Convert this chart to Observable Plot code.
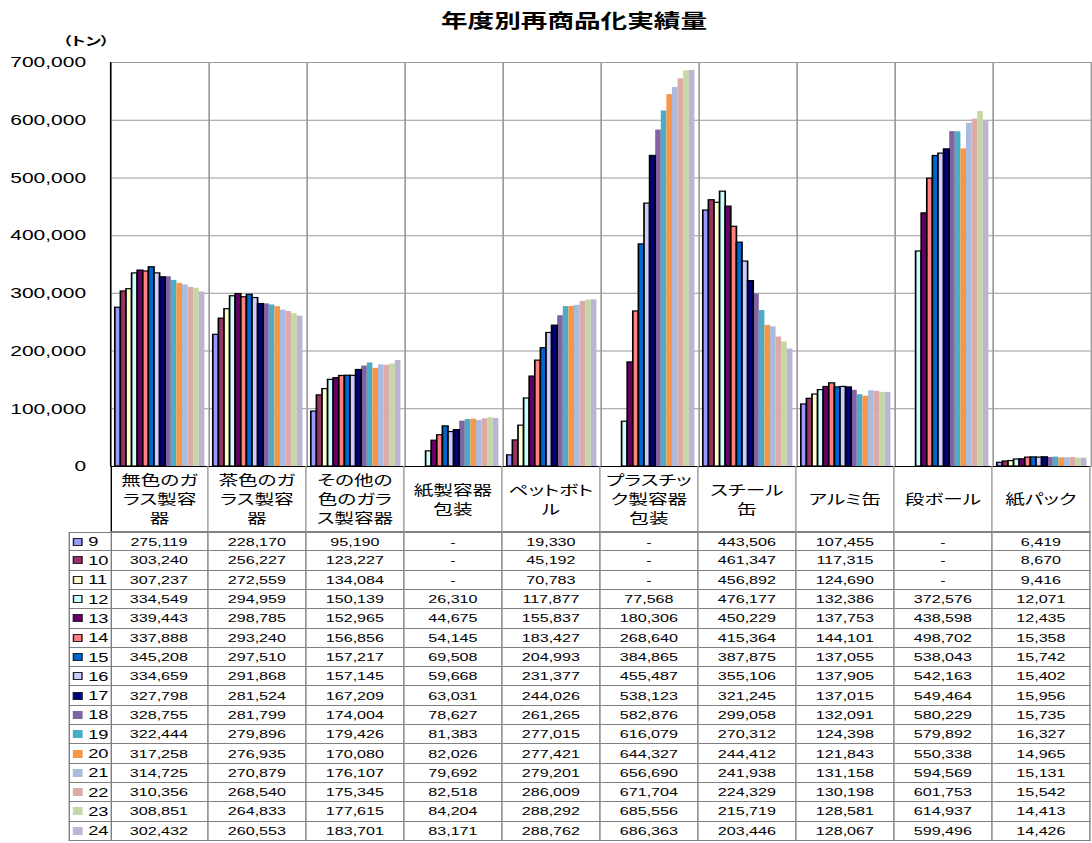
<!DOCTYPE html>
<html><head><meta charset="utf-8">
<script src="https://cdn.jsdelivr.net/npm/d3@7"></script>
<script src="https://cdn.jsdelivr.net/npm/@observablehq/plot@0.6"></script>
<style>
body{margin:0;background:#fff;}
#wrap{position:relative;width:780px;height:843px;transform:scaleX(1.4);transform-origin:0 0;font-family:"Liberation Sans",Arial,sans-serif;color:#000;overflow:visible;}
.jp{font-family:"Noto Sans CJK JP","Noto Sans CJK SC",sans-serif;font-feature-settings:"palt";}
.abs{position:absolute;box-sizing:border-box;}
.cell{display:flex;align-items:center;justify-content:center;font-size:11.5px;border-right:1px solid #808080;border-bottom:1px solid #808080;}
.head{flex-direction:column;font-size:14px;line-height:19px;border-right:1px solid #999;border-bottom:1px solid #808080;}
.leg{justify-content:flex-start;font-size:13px;border-left:1px solid #808080;}
.sw{display:inline-block;width:7px;height:8px;box-sizing:border-box;margin-left:2px;margin-right:4px;}
</style></head><body><div id="wrap"></div><script>
const categories = ["無色のガラス製容器","茶色のガラス製容器","その他の色のガラス製容器","紙製容器包装","ペットボトル","プラスチック製容器包装","スチール缶","アルミ缶","段ボール","紙パック"];
const categoryLines = [["無色のガ","ラス製容","器"],["茶色のガ","ラス製容","器"],["その他の","色のガラ","ス製容器"],["紙製容器","包装"],["ペットボト","ル"],["プラスチッ","ク製容器","包装"],["スチール","缶"],["アルミ缶"],["段ボール"],["紙パック"]];
const years = ["9","10","11","12","13","14","15","16","17","18","19","20","21","22","23","24"];
const colors = ["#9999FF","#993366","#FFFFCC","#CCFFFF","#660066","#FF8080","#0066CC","#CCCCFF","#000080","#8064A2","#4BACC6","#F79646","#AABBDD","#DDAAAA","#C4D7A4","#BCB4D4"];
const outlinedYears = ["9","10","11","12","13","14","15","16","17"];
const yTicks = [0,100000,200000,300000,400000,500000,600000,700000];
const v9  = [275119,228170,95190,null,19330,null,443506,107455,null,6419];
const v10 = [303240,256227,123227,null,45192,null,461347,117315,null,8670];
const v11 = [307237,272559,134084,null,70783,null,456892,124690,null,9416];
const v12 = [334549,294959,150139,26310,117877,77568,476177,132386,372576,12071];
const v13 = [339443,298785,152965,44675,155837,180306,450229,137753,438598,12435];
const v14 = [337888,293240,156856,54145,183427,268640,415364,144101,498702,15358];
const v15 = [345208,297510,157217,69508,204993,384865,387875,137055,538043,15742];
const v16 = [334659,291868,157145,59668,231377,455487,355106,137905,542163,15402];
const v17 = [327798,281524,167209,63031,244026,538123,321245,137015,549464,15956];
const v18 = [328755,281799,174004,78627,261265,582876,299058,132091,580229,15735];
const v19 = [322444,279896,179426,81383,277015,616079,270312,124398,579892,16327];
const v20 = [317258,276935,170080,82026,277421,644327,244412,121843,550338,14965];
const v21 = [314725,270879,176107,79692,279201,656690,241938,131158,594569,15131];
const v22 = [310356,268540,175345,82518,286009,671704,224329,130198,601753,15542];
const v23 = [308851,264833,177615,84204,288292,685556,215719,128581,614937,14413];
const v24 = [302432,260553,183701,83171,288762,686363,203446,128067,599496,14426];
const series = [v9,v10,v11,v12,v13,v14,v15,v16,v17,v18,v19,v20,v21,v22,v23,v24];

const all = years.flatMap((yr,i)=>categories.map((c,j)=>({cat:c, year:yr, value:series[i][j]})));
const bars = all.filter(d=>d.value!=null);
const fmt = d3.format(",");

const plot = Plot.plot({
  width: 780, height: 467, marginTop: 62, marginBottom: 1, marginLeft: 79, marginRight: 1,
  style: {fontFamily: '"Liberation Sans", Arial, sans-serif', fontSize: "15px", background: "transparent", overflow: "visible", color: "#000"},
  fx: {domain: categories, paddingInner: 0, paddingOuter: 0, axis: null, label: null},
  x: {domain: years, paddingInner: 0, paddingOuter: 0.7, axis: null, label: null},
  y: {domain: [0, 700000], axis: null, label: null},
  color: {domain: years, range: colors},
  marks: [
    Plot.gridY(yTicks, {stroke: "#999", strokeOpacity: 1}),
    Plot.frame({stroke: "#999"}),
    Plot.barY(bars.filter(d=>!outlinedYears.includes(d.year)), {fx:"cat", x:"year", y:"value", fill:"year", inset:0}),
    Plot.barY(bars.filter(d=>outlinedYears.includes(d.year)), {fx:"cat", x:"year", y:"value", fill:"year", stroke:"black", strokeWidth:1.2, inset:0}),
    Plot.ruleY([0], {stroke:"black"}),
    Plot.axisY(yTicks, {tickFormat: fmt, tickSize: 0, tickPadding: 18, fontSize: 15, label: null})
  ]
});
const wrap = document.getElementById("wrap");
plot.style.position = "absolute"; plot.style.left = "0"; plot.style.top = "0";
wrap.appendChild(plot);

const fxs = plot.scale("fx"), ys = plot.scale("y");
const x0 = fxs.apply(categories[0]);
const bw = fxs.bandwidth;
d3.select(plot).append("line").attr("x1",x0).attr("x2",x0).attr("y1",ys.apply(700000)).attr("y2",ys.apply(0)).attr("stroke","black");

const W = d3.select(wrap);
W.append("div").attr("class","abs jp").style("left","310px").style("width","200px").style("top","8px")
  .style("text-align","center").style("font-size","19px").style("line-height","24px").style("font-weight","700")
  .text("年度別再商品化実績量");
W.append("div").attr("class","abs jp").style("left","45px").style("top","33px").style("font-size","12px")
  .style("line-height","15px").style("font-weight","700").text("（トン）");

const yBase = ys.apply(0);
const headH = 66, rowH = 19.31, legLeft = 49;
categories.forEach((c,j)=>{
  const h = W.append("div").attr("class","abs cell head jp")
    .style("left", fxs.apply(c)+"px").style("top", yBase+"px").style("width", bw+"px").style("height", headH+"px");
  if (j===0) h.style("border-left","1px solid #000");
  categoryLines[j].forEach(t=>h.append("div").text(t));
});
years.forEach((yr,i)=>{
  const top = yBase + headH + i*rowH;
  const lg = W.append("div").attr("class","abs cell leg")
    .style("left", legLeft+"px").style("top", top+"px").style("width", (x0-legLeft+1)+"px").style("height", rowH+"px");
  if (i===0) lg.style("border-top","1px solid #808080");
  lg.append("span").attr("class","sw").style("background", colors[i])
    .style("border", outlinedYears.includes(yr) ? "1px solid #222" : "none");
  lg.append("span").text(yr);
  categories.forEach((c,j)=>{
    const v = series[i][j];
    const cl = W.append("div").attr("class","abs cell")
      .style("left", fxs.apply(c)+"px").style("top", top+"px").style("width", bw+"px").style("height", rowH+"px")
      .text(v==null ? "-" : fmt(v));
    if (i===0) cl.style("border-top","1px solid #808080");
  });
});
</script></body></html>
